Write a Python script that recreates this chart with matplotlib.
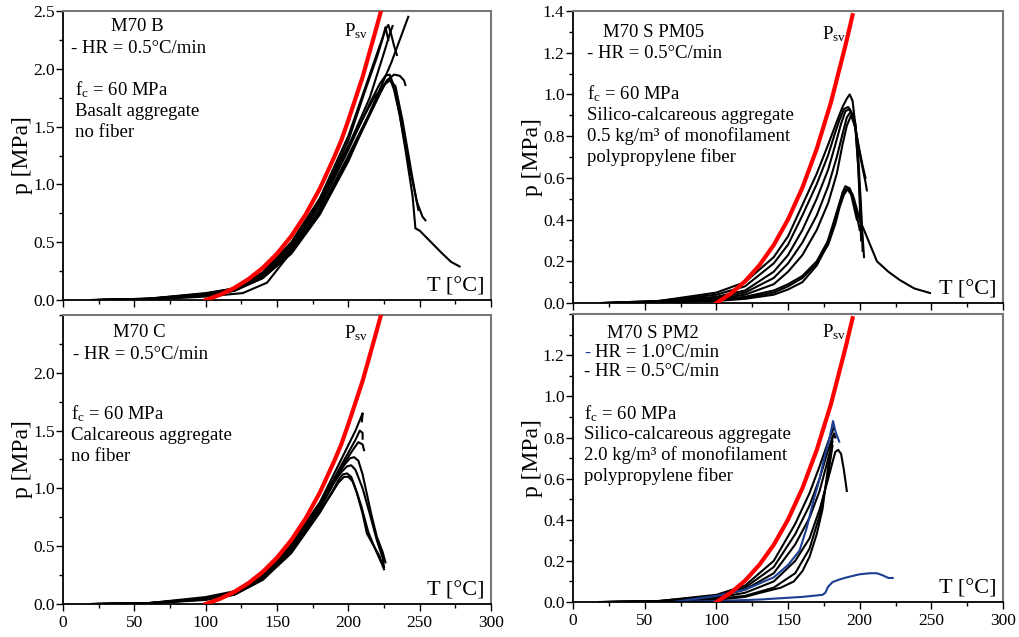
import matplotlib

matplotlib.use("Agg")

import matplotlib.pyplot as plt
from matplotlib.ticker import MultipleLocator

plt.rcParams["font.family"] = ["Liberation Serif", "DejaVu Serif"]
plt.rcParams["mathtext.fontset"] = "custom"
plt.rcParams["mathtext.rm"] = "Liberation Serif"
plt.rcParams["mathtext.it"] = "Liberation Serif:italic"

BLUE = "#1c3f94"

# saturated vapour pressure curve (red)
psv_T = [100, 110, 120, 130, 140, 150, 160, 170, 180, 190, 195, 200, 210, 220, 225]
psv_p = [0.0, 0.045, 0.104, 0.181, 0.278, 0.401, 0.553, 0.739, 0.964, 1.234, 1.38, 1.556, 1.93, 2.37, 2.6]

# M70 B
b_T = [
    [22, 60, 100, 120, 140, 160, 180, 200, 213, 222, 226, 228, 230, 232, 234],
    [25, 60, 100, 120, 140, 160, 180, 200, 212, 220, 224, 226, 228],
    [20, 60, 100, 120, 140, 160, 180, 200, 215, 230, 242],
    [25, 60, 100, 120, 140, 160, 180, 200, 215, 222, 226, 229, 232, 236, 242, 248, 252, 254],
    [22, 60, 100, 120, 140, 160, 180, 200, 215, 222, 226, 229, 232, 236, 240, 245, 247, 250, 258, 266, 272, 278],
    [25, 60, 100, 120, 140, 160, 180, 200, 215, 222, 227, 232, 236, 239, 240],
    [30, 70, 100, 126, 143, 157, 173, 190, 205, 218, 225, 229, 233, 238, 245, 249],
    [20, 60, 100, 120, 140, 160, 180, 200, 215, 224, 229, 231],
]
b_p = [
    [0, 0.012, 0.06, 0.1, 0.24, 0.5, 0.88, 1.42, 1.88, 2.2, 2.34, 2.38, 2.3, 2.2, 2.12],
    [0, 0.01, 0.05, 0.09, 0.22, 0.48, 0.85, 1.38, 1.82, 2.1, 2.26, 2.36, 2.25],
    [0, 0.01, 0.045, 0.08, 0.19, 0.4, 0.74, 1.2, 1.62, 2.05, 2.45],
    [0, 0.01, 0.05, 0.09, 0.21, 0.45, 0.8, 1.3, 1.7, 1.87, 1.94, 1.95, 1.85, 1.6, 1.2, 0.85, 0.72, 0.69],
    [0, 0.01, 0.045, 0.08, 0.2, 0.43, 0.77, 1.25, 1.62, 1.8, 1.88, 1.92, 1.82, 1.6, 1.3, 0.9, 0.62, 0.6, 0.5, 0.4, 0.33, 0.29],
    [0, 0.01, 0.04, 0.08, 0.19, 0.42, 0.76, 1.22, 1.6, 1.78, 1.9, 1.95, 1.94, 1.9, 1.86],
    [0, 0.01, 0.03, 0.06, 0.15, 0.37, 0.72, 1.1, 1.45, 1.75, 1.86, 1.9, 1.85, 1.55, 1.05, 0.78],
    [0, 0.012, 0.055, 0.1, 0.23, 0.47, 0.83, 1.33, 1.75, 2.1, 2.3, 2.37],
]

# M70 C
c_T = [
    [20, 60, 100, 120, 140, 160, 180, 195, 205, 209, 210, 209.5],
    [22, 60, 100, 120, 140, 160, 180, 195, 205, 208, 210, 210],
    [20, 60, 100, 120, 140, 160, 180, 195, 203, 207, 210, 211],
    [25, 60, 100, 120, 140, 160, 180, 192, 197, 201, 204, 207, 210, 213, 216, 220, 224, 226],
    [22, 60, 100, 120, 140, 160, 180, 190, 195, 199, 202, 205, 210, 215, 220, 224, 225],
    [25, 60, 100, 120, 140, 160, 180, 188, 193, 197, 200, 203, 206, 210, 213, 217, 222, 224, 225],
    [20, 60, 100, 120, 140, 160, 180, 189, 193, 196, 199, 202, 205, 209, 214, 219, 223],
]
c_p = [
    [0, 0.008, 0.06, 0.11, 0.26, 0.52, 0.88, 1.25, 1.5, 1.62, 1.65, 1.58],
    [0, 0.008, 0.05, 0.1, 0.25, 0.5, 0.86, 1.2, 1.42, 1.5, 1.48, 1.43],
    [0, 0.006, 0.045, 0.09, 0.24, 0.49, 0.85, 1.18, 1.33, 1.4, 1.38, 1.33],
    [0, 0.008, 0.045, 0.09, 0.23, 0.47, 0.83, 1.1, 1.2, 1.26, 1.27, 1.24, 1.12, 0.95, 0.78, 0.58, 0.45, 0.36],
    [0, 0.007, 0.04, 0.085, 0.22, 0.46, 0.82, 1.05, 1.14, 1.19, 1.2, 1.16, 1.0, 0.78, 0.55, 0.4, 0.32],
    [0, 0.006, 0.04, 0.08, 0.21, 0.45, 0.8, 0.95, 1.05, 1.1, 1.1, 1.06, 0.96, 0.78, 0.61, 0.52, 0.41, 0.33, 0.3],
    [0, 0.006, 0.035, 0.08, 0.21, 0.44, 0.79, 0.98, 1.07, 1.12, 1.13, 1.1, 1.0, 0.85, 0.62, 0.47, 0.36],
]

# M70 S PM05
s05_T = [
    [20, 60, 100, 120, 140, 150, 160, 170, 178, 184, 188, 191, 193, 195, 197, 199, 201, 203],
    [22, 60, 100, 120, 140, 150, 160, 170, 178, 183, 186, 189, 192, 195, 198, 201, 204, 205],
    [25, 60, 100, 120, 140, 150, 160, 170, 178, 183, 187, 190, 193, 196, 199, 202, 204],
    [20, 60, 100, 120, 140, 150, 160, 170, 178, 184, 188, 191, 194, 197, 199, 201, 202],
    [20, 60, 100, 120, 140, 150, 160, 170, 178, 184, 188, 191, 194, 197, 199, 201],
    [25, 60, 100, 120, 140, 150, 160, 170, 178, 183, 186, 188, 190, 193, 196, 200, 206, 212, 220, 228, 238, 249],
    [25, 60, 100, 120, 140, 150, 160, 170, 178, 183, 186, 189, 192, 195, 198, 200],
    [30, 60, 100, 120, 140, 150, 160, 170, 176, 181, 185, 188, 191, 194, 198],
]
s05_p = [
    [0, 0.01, 0.05, 0.1, 0.22, 0.32, 0.47, 0.62, 0.76, 0.87, 0.94, 0.98, 1.0, 0.97, 0.85, 0.65, 0.42, 0.22],
    [0, 0.01, 0.04, 0.08, 0.19, 0.28, 0.42, 0.57, 0.71, 0.82, 0.88, 0.93, 0.94, 0.9, 0.8, 0.68, 0.58, 0.54],
    [0, 0.008, 0.03, 0.06, 0.15, 0.23, 0.35, 0.5, 0.64, 0.76, 0.86, 0.92, 0.93, 0.88, 0.76, 0.66, 0.6],
    [0, 0.006, 0.025, 0.05, 0.12, 0.19, 0.29, 0.42, 0.56, 0.7, 0.81, 0.89, 0.92, 0.86, 0.7, 0.45, 0.25],
    [0, 0.005, 0.02, 0.04, 0.09, 0.15, 0.23, 0.35, 0.48, 0.62, 0.76, 0.85, 0.9, 0.84, 0.65, 0.3],
    [0, 0.004, 0.015, 0.03, 0.06, 0.09, 0.13, 0.2, 0.3, 0.4, 0.48, 0.53, 0.56, 0.55, 0.5, 0.4, 0.3, 0.2, 0.15, 0.11, 0.07, 0.048],
    [0, 0.004, 0.012, 0.025, 0.05, 0.08, 0.12, 0.19, 0.28, 0.38, 0.46, 0.52, 0.55, 0.52, 0.42, 0.35],
    [0, 0.003, 0.01, 0.02, 0.04, 0.065, 0.1, 0.18, 0.26, 0.37, 0.46, 0.52, 0.55, 0.52, 0.4],
]

# M70 S PM2, HR = 0.5 C/min (black)
s2_T = [
    [18, 60, 100, 120, 140, 155, 165, 172, 178, 182],
    [20, 60, 100, 120, 140, 155, 165, 172, 178, 182, 183],
    [20, 60, 100, 120, 140, 155, 165, 172, 177, 181],
    [22, 60, 100, 120, 140, 155, 165, 172, 178, 181, 183, 185, 187, 189, 191],
    [25, 60, 100, 120, 140, 155, 165, 172, 178, 181],
    [30, 70, 100, 120, 130, 145, 154, 160, 165, 170, 174, 178, 181],
]
s2_p = [
    [0, 0.005, 0.035, 0.08, 0.2, 0.38, 0.53, 0.66, 0.78, 0.85],
    [0, 0.005, 0.03, 0.07, 0.17, 0.33, 0.47, 0.6, 0.74, 0.82, 0.8],
    [0, 0.004, 0.025, 0.06, 0.14, 0.28, 0.41, 0.54, 0.67, 0.78],
    [0, 0.004, 0.02, 0.045, 0.1, 0.2, 0.31, 0.45, 0.6, 0.68, 0.73, 0.74, 0.72, 0.64, 0.54],
    [0, 0.003, 0.015, 0.03, 0.07, 0.14, 0.26, 0.42, 0.62, 0.76],
    [0, 0.003, 0.01, 0.025, 0.044, 0.07, 0.1, 0.15, 0.22, 0.33, 0.45, 0.66, 0.8],
]

# M70 S PM2, HR = 1.0 C/min (blue)
s2_blue_T = [
    [70, 100, 120, 140, 150, 158, 163, 168, 172, 176, 179, 181.4, 183, 185.7],
    [70, 100, 130, 160, 174, 176, 178, 181, 186, 191, 200, 207, 212, 216, 220, 223],
]
s2_blue_p = [
    [0, 0.03, 0.06, 0.12, 0.18, 0.25, 0.36, 0.5, 0.6, 0.72, 0.8, 0.88, 0.83, 0.78],
    [0, 0.005, 0.012, 0.025, 0.035, 0.045, 0.075, 0.097, 0.11, 0.12, 0.135, 0.14, 0.14, 0.13, 0.117, 0.117],
]


def style_axes(ax, ymax, ymajor, yminor, ylabels_top, xlabels):
    ax.set_xlim(0, 300)
    ax.set_ylim(0, ymax)
    ax.xaxis.set_major_locator(MultipleLocator(50))
    ax.xaxis.set_minor_locator(MultipleLocator(25))
    ticks = [i * ymajor for i in range(int(round(ylabels_top / ymajor)) + 1)]
    ax.set_yticks(ticks)
    ax.set_yticklabels([f"{t:.1f}" for t in ticks])
    ax.yaxis.set_minor_locator(MultipleLocator(yminor))
    ax.tick_params(which="both", direction="out", labelsize=12.5, width=1, pad=1)
    ax.tick_params(which="major", length=5)
    ax.tick_params(which="minor", length=3)
    ax.tick_params(axis="x", labelbottom=xlabels, pad=3)
    for side in ("top", "right"):
        ax.spines[side].set_color("#777777")
        ax.spines[side].set_linewidth(1.5)
    for side in ("left", "bottom"):
        ax.spines[side].set_linewidth(1.3)
    ax.set_ylabel("p [MPa]", fontsize=17, labelpad=0)
    ax.text(0.985, 0.045, "T [°C]", transform=ax.transAxes, fontsize=16,
            ha="right", va="center")


def draw_curves(ax, temps, press, color="black"):
    for t, p in zip(temps, press):
        ax.plot(t, p, color=color, linewidth=1.5, zorder=2)


def draw_psv(ax, n, label_xy):
    ax.plot(psv_T[:n], psv_p[:n], color="#ff0000", linewidth=3, zorder=3)
    ax.text(*label_xy, r"P$_{\rm sv}$", fontsize=13.5, ha="left", va="center")


def notes(ax, lines, fs=13.5):
    for x, y, s in lines:
        ax.text(x, y, s, transform=ax.transAxes, fontsize=fs, ha="left", va="center")


fig = plt.figure(figsize=(10.2, 6.37), dpi=100)
ax_b = fig.add_axes([0.0618, 0.529, 0.4196, 0.4537])
ax_c = fig.add_axes([0.0618, 0.0518, 0.4196, 0.4537])
ax_05 = fig.add_axes([0.5618, 0.5243, 0.4216, 0.4584])
ax_2 = fig.add_axes([0.5618, 0.0549, 0.4216, 0.452])

# M70 B
draw_curves(ax_b, b_T, b_p)
draw_psv(ax_b, len(psv_T), (197, 2.33))
style_axes(ax_b, 2.5, 0.5, 0.25, 2.5, False)
notes(ax_b, [
    (0.112, 0.945, "M70 B"),
    (0.019, 0.872, "- HR = 0.5°C/min"),
    (0.028, 0.727, r"f$_{\rm c}$ = 60 MPa"),
    (0.028, 0.652, "Basalt aggregate"),
    (0.028, 0.58, "no fiber"),
])

# M70 C
draw_curves(ax_c, c_T, c_p)
draw_psv(ax_c, len(psv_T), (197, 2.34))
style_axes(ax_c, 2.5, 0.5, 0.25, 2.0, True)
notes(ax_c, [
    (0.117, 0.938, "M70 C"),
    (0.023, 0.862, "- HR = 0.5°C/min"),
    (0.019, 0.657, r"f$_{\rm c}$ = 60 MPa"),
    (0.019, 0.583, "Calcareous aggregate"),
    (0.019, 0.51, "no fiber"),
])

# M70 S PM05
draw_curves(ax_05, s05_T, s05_p)
draw_psv(ax_05, 11, (174, 1.29))
style_axes(ax_05, 1.4, 0.2, 0.1, 1.4, False)
notes(ax_05, [
    (0.07, 0.928, "M70 S PM05"),
    (0.033, 0.855, "- HR = 0.5°C/min"),
    (0.033, 0.717, r"f$_{\rm c}$ = 60 MPa"),
    (0.033, 0.643, "Silico-calcareous aggregate"),
    (0.033, 0.571, "0.5 kg/m³ of monofilament"),
    (0.033, 0.499, "polypropylene fiber"),
])

# M70 S PM2
draw_curves(ax_2, s2_T, s2_p)
draw_curves(ax_2, s2_blue_T, s2_blue_p, color=BLUE)
draw_psv(ax_2, 11, (174, 1.31))
style_axes(ax_2, 1.4, 0.2, 0.1, 1.2, True)
notes(ax_2, [
    (0.079, 0.934, "M70 S PM2"),
    (0.026, 0.8, "- HR = 0.5°C/min"),
    (0.026, 0.656, r"f$_{\rm c}$ = 60 MPa"),
    (0.026, 0.582, "Silico-calcareous aggregate"),
    (0.026, 0.51, "2.0 kg/m³ of monofilament"),
    (0.026, 0.438, "polypropylene fiber"),
])
# blue dash marks the 1.0 C/min series, the rest of the line stays black
ax_2.text(0.026, 0.865, "-", transform=ax_2.transAxes, fontsize=13.5,
          ha="left", va="center", color=BLUE)
ax_2.annotate("HR = 1.0°C/min", xy=(0.026, 0.865), xycoords="axes fraction",
              xytext=(7.9, 0), textcoords="offset points", fontsize=13.5,
              ha="left", va="center")

fig.savefig("out.png", dpi=100)
plt.close(fig)
